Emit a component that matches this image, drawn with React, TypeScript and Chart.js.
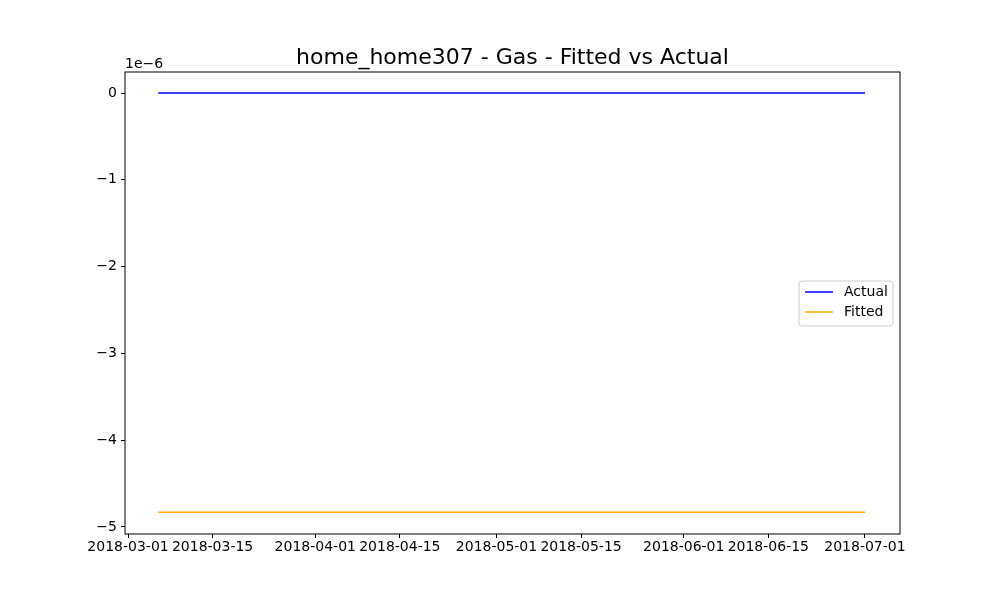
import { useEffect, useRef } from 'react';
import { Chart, registerables } from 'chart.js';

Chart.register(...registerables);

const dates = ['2018-03-06', '2018-07-01'];
const actual = [0, 0];
const fitted = [-4.83e-6, -4.83e-6];
const xTickLabels = [
  '2018-03-01', '2018-03-15', '2018-04-01', '2018-04-15', '2018-05-01',
  '2018-05-15', '2018-06-01', '2018-06-15', '2018-07-01',
];
const yTicks = [-5, -4, -3, -2, -1, 0];

const DAY = 86400000;
const base = Date.UTC(2018, 2, 1);
const dayOf = (s: string) => (Date.parse(s + 'T00:00:00Z') - base) / DAY;
const FONT = '"DejaVu Sans", sans-serif';

const App = () => {
  const chartRef = useRef<HTMLCanvasElement | null>(null);
  const chartInstance = useRef<Chart | null>(null);

  useEffect(() => {
    if (!chartRef.current) return;
    const ctx = chartRef.current.getContext('2d');
    if (!ctx) return;
    if (chartInstance.current) chartInstance.current.destroy();

    const decor = {
      id: 'decor',
      afterDraw(chart: Chart) {
        const c = chart.ctx;
        const a = chart.chartArea;
        c.save();
        c.strokeStyle = '#000';
        c.lineWidth = 1;
        c.strokeRect(a.left, a.top, a.right - a.left, a.bottom - a.top);
        c.fillStyle = '#000';
        c.font = '22px ' + FONT;
        c.textAlign = 'center';
        c.textBaseline = 'alphabetic';
        c.fillText('home_home307 - Gas - Fitted vs Actual', (a.left + a.right) / 2, 64);
        c.font = '14px ' + FONT;
        c.textAlign = 'left';
        c.fillText('1e\u22126', a.left, 68);
        // legend
        c.strokeStyle = '#ccc';
        c.fillStyle = 'rgba(255,255,255,0.8)';
        c.beginPath();
        c.roundRect(799, 281, 94, 45, 3);
        c.fill();
        c.stroke();
        const items: [string, string][] = [['Actual', '#0000ff'], ['Fitted', '#ffa500']];
        items.forEach(([t, col], i) => {
          const y = 292 + i * 20;
          c.strokeStyle = col;
          c.lineWidth = 1.5;
          c.beginPath();
          c.moveTo(805, y);
          c.lineTo(833, y);
          c.stroke();
          c.fillStyle = '#000';
          c.textBaseline = 'middle';
          c.fillText(t, 844, y);
        });
        c.restore();
      },
    };

    const toPts = (vals: number[]) => dates.map((d, i) => ({ x: dayOf(d), y: vals[i] }));

    chartInstance.current = new Chart(ctx, {
      type: 'line',
      data: {
        datasets: [
          { label: 'Actual', data: toPts(actual), borderColor: '#0000ff', borderWidth: 1.5, pointRadius: 0 },
          { label: 'Fitted', data: toPts(fitted), borderColor: '#ffa500', borderWidth: 1.5, pointRadius: 0 },
        ],
      },
      options: {
        animation: false,
        responsive: false,
        layout: { padding: { top: 72, right: 100, left: 0, bottom: 0 } },
        plugins: { legend: { display: false }, title: { display: false }, tooltip: { enabled: false } },
        scales: {
          x: {
            type: 'linear',
            min: -0.5,
            max: 127.8,
            afterFit: (s: any) => { s.height = 66; },
            afterBuildTicks: (s: any) => { s.ticks = xTickLabels.map((l) => ({ value: dayOf(l) })); },
            ticks: {
              color: '#000',
              font: { family: FONT, size: 14 },
              maxRotation: 0,
              autoSkip: false,
              padding: 1,
              callback: (v: any) => xTickLabels.find((l) => dayOf(l) === v) ?? '',
            },
            grid: { drawOnChartArea: false, color: '#000', tickLength: 4 },
            border: { display: false },
          },
          y: {
            min: -5.081e-6,
            max: 0.242e-6,
            afterFit: (s: any) => { s.width = 125; },
            afterBuildTicks: (s: any) => { s.ticks = yTicks.map((v) => ({ value: v * 1e-6 })); },
            ticks: {
              color: '#000',
              font: { family: FONT, size: 14 },
              padding: 4,
              callback: (v: any) => {
                const n = Math.round(Number(v) * 1e6);
                return n < 0 ? '\u2212' + Math.abs(n) : String(n);
              },
            },
            grid: { drawOnChartArea: false, color: '#000', tickLength: 4 },
            border: { display: false },
          },
        },
      },
      plugins: [decor],
    });

    return () => {
      if (chartInstance.current) chartInstance.current.destroy();
    };
  }, []);

  return (
    <div style={{ position: 'fixed', left: 0, top: 0, width: 1000, height: 600, background: '#fff' }}>
      <canvas ref={chartRef} width={1000} height={600} style={{ width: 1000, height: 600 }} />
    </div>
  );
};

export default App;
